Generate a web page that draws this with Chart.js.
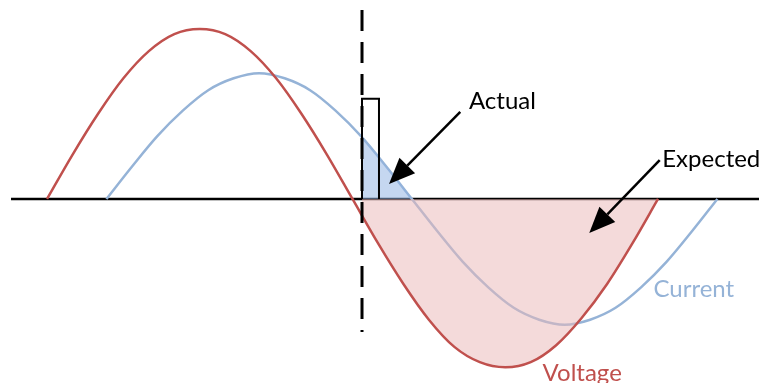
<!DOCTYPE html>
<html>
<head>
<meta charset="UTF-8">
<script src="https://cdn.jsdelivr.net/npm/chart.js"></script>
<style>
  html, body { margin: 0; padding: 0; background: #fff; }
  #wrap { width: 759px; height: 383px; position: relative; }
</style>
</head>
<body>
<div id="wrap"><canvas id="c"></canvas></div>
<script>
// phase angle in degrees (voltage starts at 0), amplitude in units of the voltage peak
const voltageDeg = [0, 15, 30, 45, 60, 75, 90, 105, 120, 135, 150, 165, 180, 195, 210, 225, 240, 255, 270, 285, 300, 315, 330, 345, 360];
const voltageVal = [0, 0.26, 0.5, 0.71, 0.87, 0.97, 1.0, 0.97, 0.87, 0.71, 0.5, 0.26, 0, -0.26, -0.5, -0.71, -0.87, -0.96, -0.99, -0.96, -0.86, -0.7, -0.5, -0.26, 0];

const currentDeg = [35, 50, 65, 80, 95, 110, 125, 140, 155, 170, 185, 200, 215, 230, 245, 260, 275, 290, 305, 320, 335, 350, 365, 380, 395];
const currentVal = [0, 0.19, 0.37, 0.52, 0.64, 0.71, 0.74, 0.71, 0.64, 0.52, 0.37, 0.19, 0, -0.19, -0.37, -0.52, -0.64, -0.71, -0.74, -0.71, -0.64, -0.52, -0.37, -0.19, 0];

// shaded areas: "actual" (under current) and "expected" (under voltage), from the switching instant
const actualDeg = [185.6, 193, 200, 207.5, 215];
const actualVal = [0.36, 0.28, 0.19, 0.10, 0];
const expectedDeg = [185.6, 195, 210, 225, 240, 255, 270, 285, 300, 315, 330, 345, 360];
const expectedVal = [-0.1, -0.26, -0.5, -0.71, -0.87, -0.96, -0.99, -0.96, -0.86, -0.7, -0.5, -0.26, 0];

// switching instant (dashed) and the short pulse
const switchDeg = [185.6, 185.6];
const switchVal = [1.112, -0.782];
const pulseDeg = [185.6, 185.6, 195.6, 195.6];
const pulseVal = [0, 0.59, 0.59, 0];

// horizontal axis
const axisDeg = [-21.2, 419.5];
const axisVal = [0, 0];

// annotation arrows [fromDeg, fromVal, toDeg, toVal]
const arrows = [
  [243.5, 0.512, 201.5, 0.088],
  [361.0, 0.229, 319.5, -0.2]
];
// text labels [text, deg, val, colour]
const labels = [
  ['Actual', 248.6, 0.53, '#000000'],
  ['Expected', 362.5, 0.19, '#000000'],
  ['Current', 357.3, -0.576, '#95b3d7'],
  ['Voltage', 292.0, -1.07, '#c0504d']
];

const pts = (xs, ys) => xs.map((x, i) => ({ x: x, y: ys[i] }));

const annotate = {
  id: 'annotate',
  afterDatasetsDraw(chart) {
    const ctx = chart.ctx, sx = chart.scales.x, sy = chart.scales.y;
    ctx.save();
    arrows.forEach(a => {
      const x1 = sx.getPixelForValue(a[0]), y1 = sy.getPixelForValue(a[1]);
      const x2 = sx.getPixelForValue(a[2]), y2 = sy.getPixelForValue(a[3]);
      const ang = Math.atan2(y2 - y1, x2 - x1);
      const len = 26, half = 11;
      const bx = x2 - len * Math.cos(ang), by = y2 - len * Math.sin(ang);
      ctx.strokeStyle = '#000';
      ctx.lineWidth = 2.5;
      ctx.beginPath();
      ctx.moveTo(x1, y1);
      ctx.lineTo(bx, by);
      ctx.stroke();
      ctx.fillStyle = '#000';
      ctx.beginPath();
      ctx.moveTo(x2, y2);
      ctx.lineTo(bx + half * Math.sin(ang), by - half * Math.cos(ang));
      ctx.lineTo(bx - half * Math.sin(ang), by + half * Math.cos(ang));
      ctx.closePath();
      ctx.fill();
    });
    ctx.font = '24px Lato';
    ctx.textBaseline = 'alphabetic';
    ctx.textAlign = 'left';
    labels.forEach(l => {
      ctx.fillStyle = l[3];
      ctx.fillText(l[0], sx.getPixelForValue(l[1]), sy.getPixelForValue(l[2]));
    });
    ctx.restore();
  }
};

new Chart(document.getElementById('c'), {
  type: 'scatter',
  data: {
    datasets: [
      { data: pts(axisDeg, axisVal), showLine: true, borderColor: '#000', borderWidth: 2.5, pointRadius: 0, order: 10 },
      { data: pts(currentDeg, currentVal), showLine: true, borderColor: '#95b3d7', borderWidth: 2.5, pointRadius: 0,
        tension: 0.4, cubicInterpolationMode: 'monotone', order: 8 },
      { data: pts(actualDeg, actualVal), showLine: true, borderColor: 'transparent', borderWidth: 0, pointRadius: 0,
        backgroundColor: 'rgba(143,178,226,0.52)', fill: 'origin', cubicInterpolationMode: 'monotone', order: 6 },
      { data: pts(expectedDeg, expectedVal), showLine: true, borderColor: 'transparent', borderWidth: 0, pointRadius: 0,
        backgroundColor: 'rgba(233,184,184,0.52)', fill: 'origin', cubicInterpolationMode: 'monotone', order: 6 },
      { data: pts(voltageDeg, voltageVal), showLine: true, borderColor: '#c0504d', borderWidth: 2.5, pointRadius: 0,
        tension: 0.4, cubicInterpolationMode: 'monotone', order: 4 },
      { data: pts(switchDeg, switchVal), showLine: true, borderColor: '#000', borderWidth: 3, borderDash: [21, 11],
        pointRadius: 0, order: 2 },
      { data: pts(pulseDeg, pulseVal), showLine: true, borderColor: '#000', borderWidth: 2, pointRadius: 0,
        tension: 0, order: 1 }
    ]
  },
  options: {
    responsive: true,
    maintainAspectRatio: false,
    animation: false,
    layout: { padding: 0 },
    plugins: { legend: { display: false }, tooltip: { enabled: false } },
    scales: {
      x: { type: 'linear', display: false, min: -27.69, max: 419.5 },
      y: { type: 'linear', display: false, min: -1.0824, max: 1.1706 }
    }
  },
  plugins: [annotate]
});
</script>
</body>
</html>
